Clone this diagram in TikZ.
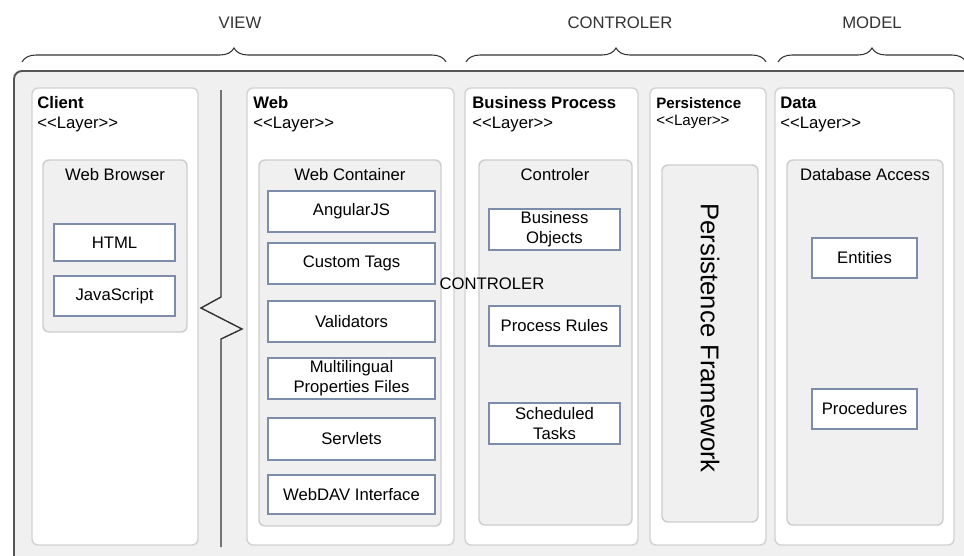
\documentclass[tikz,border=0pt]{standalone}
\usepackage{fontspec}
\setmainfont{Liberation Sans}
\usetikzlibrary{fit,decorations.pathreplacing}

\definecolor{framefill}{HTML}{F0F0F0}
\definecolor{frameline}{HTML}{555555}
\definecolor{panelline}{HTML}{D2D2D2}
\definecolor{groupfill}{HTML}{F0F0F0}
\definecolor{groupline}{HTML}{CDCDCD}
\definecolor{itemline}{HTML}{7D8CAA}
\definecolor{tiertext}{HTML}{333333}
\newcommand{\lyr}{{<}{<}Layer{>}{>}}

\begin{document}
\begin{tikzpicture}[x=0.02cm,y=-0.02cm,
    font=\fontsize{9.5}{11.3}\selectfont,
    layer/.style={draw=panelline, fill=white, rounded corners=0.12cm, line width=0.8pt, inner sep=0},
    group/.style={draw=groupline, fill=groupfill, rounded corners=0.12cm, line width=0.8pt, inner sep=0},
    item/.style 2 args={draw=itemline, fill=white, line width=0.7pt, inner sep=0, align=center,
      minimum width=#1cm, minimum height=#2cm},
    title/.style={anchor=base west, inner sep=0},
    head/.style={anchor=base, inner sep=0},
    tier/.style={anchor=base, inner sep=0, text=tiertext},
    tierbrace/.style={decorate, decoration={brace, amplitude=0.28cm}, draw=tiertext, line width=0.6pt}]
    \useasboundingbox (0,0) rectangle (964,555);
    \clip (0,0) rectangle (964,555);
    \fill[white] (0,0) rectangle (964,555);

    % tiers on top
    \node[tier] (view) at (240,28) {VIEW};
    \node[tier] (ctrl) at (620,28) {CONTROLER};
    \node[tier] (model) at (872,28) {MODEL};
    \draw[tierbrace] (22,62) -- (446,62);
    \draw[tierbrace] (466,62) -- (766,62);
    \draw[tierbrace] (778,62) -- (966,62);

    % outer frame
    \filldraw[draw=frameline, fill=framefill, line width=1.1pt, rounded corners=0.16cm] (14,71) rectangle (990,590);

    % client layer
    \node[layer, fit={(32,88) (198,545)}] (client) {};
    \node[title] (client-t) at (37,108) {\bfseries Client};
    \node[title] (client-l) at (37,128) {\lyr};
    \node[group, fit={(43,160) (187,332)}] (browser) {};
    \node[head] (browser-t) at (115,180) {Web Browser};
    \node[item={2.42}{0.74}] (html) at (114.5,242.5) {HTML};
    \node[item={2.42}{0.80}] (js) at (114.5,296) {JavaScript};

    % divider
    \draw[line width=0.8pt, draw=tiertext] (221,90) -- (221,297) -- (201,308) -- (242,329) -- (221,339) -- (221,547);

    % web layer
    \node[layer, fit={(247,88) (454,545)}] (web) {};
    \node[title] (web-t) at (253,108) {\bfseries Web};
    \node[title] (web-l) at (253,128) {\lyr};
    \node[group, fit={(259,160) (441,526)}] (container) {};
    \node[head] (container-t) at (350,180) {Web Container};
    \node[item={3.34}{0.82}] (angular) at (351.5,211.5) {AngularJS};
    \node[item={3.34}{0.82}] (tags) at (351.5,263.5) {Custom Tags};
    \node[item={3.34}{0.82}] (valid) at (351.5,321.5) {Validators};
    \node[item={3.34}{0.82}] (lang) at (351.5,378.5) {Multilingual\\Properties Files};
    \node[item={3.34}{0.84}] (servlets) at (351.5,439) {Servlets};
    \node[item={3.34}{0.78}] (webdav) at (351.5,494.5) {WebDAV Interface};

    % business process layer
    \node[layer, fit={(465,88) (638,545)}] (business) {};
    \node[title] (business-t) at (472,108) {\bfseries Business Process};
    \node[title] (business-l) at (472,128) {\lyr};
    \node[group, fit={(479,160) (632,525)}] (controler) {};
    \node[head] (controler-t) at (555,180) {Controler};
    \node[item={2.62}{0.82}] (objects) at (554.5,229.5) {Business\\Objects};
    \node[item={2.62}{0.80}] (rules) at (554.5,326) {Process Rules};
    \node[item={2.62}{0.82}] (tasks) at (554.5,423.5) {Scheduled\\Tasks};
    \node[anchor=base, inner sep=0] (ctrl-mid) at (492,289) {CONTROLER};

    % persistence layer
    \node[layer, fit={(650,88) (766,545)}] (persist) {};
    \node[title, font=\fontsize{8.6}{10}\selectfont] (persist-t) at (656,108) {\bfseries Persistence};
    \node[title, font=\fontsize{8.6}{10}\selectfont] (persist-l) at (656,125) {\lyr};
    \node[group, fit={(662,165) (758,522)}] (framework) {};
    \node[rotate=-90, inner sep=0, font=\fontsize{14.6}{17}\selectfont] (framework-t) at (710,338) {Persistence Framework};

    % data layer
    \node[layer, fit={(775,88) (954,545)}] (data) {};
    \node[title] (data-t) at (780,108) {\bfseries Data};
    \node[title] (data-l) at (780,128) {\lyr};
    \node[group, fit={(787,160) (943,525)}] (dbaccess) {};
    \node[head] (dbaccess-t) at (865,180) {Database Access};
    \node[item={2.10}{0.80}] (entities) at (864.5,258) {Entities};
    \node[item={2.10}{0.80}] (procs) at (864.5,409) {Procedures};
\end{tikzpicture}
\end{document}
